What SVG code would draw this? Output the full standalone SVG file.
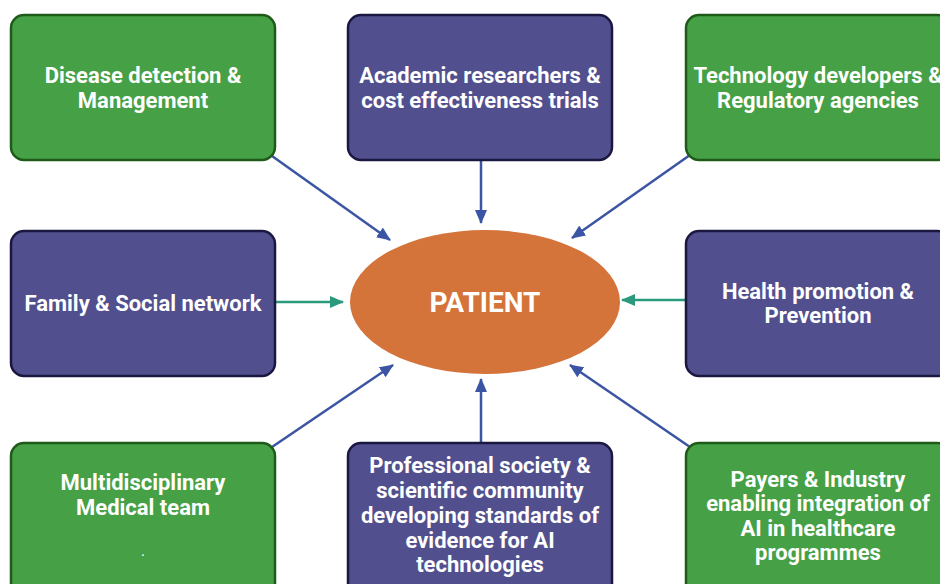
<svg xmlns="http://www.w3.org/2000/svg" width="940" height="584" viewBox="0 0 940 584">
<defs>
<marker id="ab" viewBox="0 0 14 12" refX="13" refY="6" markerWidth="5.6" markerHeight="4.8" orient="auto" markerUnits="strokeWidth"><path d="M0,0 L14,6 L0,12 z" fill="#3b55a4"/></marker>
<marker id="at" viewBox="0 0 14 12" refX="13" refY="6" markerWidth="5.6" markerHeight="4.8" orient="auto" markerUnits="strokeWidth"><path d="M0,0 L14,6 L0,12 z" fill="#2b9a7c"/></marker>
<style>
.g{fill:#46a046;stroke:#1e5a18;stroke-width:2.5}
.p{fill:#524f8e;stroke:#1a1840;stroke-width:2.5}
.t{font-family:Roboto,"Liberation Sans",sans-serif;font-weight:bold;font-size:22px;fill:#ffffff;text-anchor:middle}
.cb{stroke:#3b55a4;stroke-width:2.5;fill:none;marker-end:url(#ab)}
.ct{stroke:#2b9a7c;stroke-width:2.5;fill:none;marker-end:url(#at)}
</style>
</defs>
<rect width="940" height="584" fill="#ffffff"/>
<g id="connectors">
<line class="cb" x1="272" y1="156" x2="390" y2="240"/>
<line class="cb" x1="481" y1="160" x2="481" y2="223"/>
<line class="cb" x1="690" y1="155" x2="572" y2="238"/>
<line class="ct" x1="276" y1="302" x2="343" y2="302"/>
<line class="ct" x1="686" y1="300" x2="622" y2="300"/>
<line class="cb" x1="272" y1="447" x2="393" y2="365"/>
<line class="cb" x1="481" y1="443" x2="481" y2="379"/>
<line class="cb" x1="690" y1="447" x2="570" y2="365"/>
</g>
<g id="n1"><rect class="g" x="11" y="15" width="264" height="145" rx="13"/>
<text class="t" x="143" y="83">Disease detection &amp;</text><text class="t" x="143" y="108">Management</text></g>
<g id="n2"><rect class="p" x="348" y="15" width="264" height="145" rx="13"/>
<text class="t" x="480" y="83">Academic researchers &amp;</text><text class="t" x="480" y="108">cost effectiveness trials</text></g>
<g id="n3"><rect class="g" x="686" y="15" width="264" height="145" rx="13"/>
<text class="t" x="818" y="83">Technology developers &amp;</text><text class="t" x="818" y="108">Regulatory agencies</text></g>
<g id="n4"><rect class="p" x="11" y="231" width="264" height="145" rx="13"/>
<text class="t" x="143" y="311">Family &amp; Social network</text></g>
<g id="n5"><rect class="p" x="686" y="231" width="264" height="145" rx="13"/>
<text class="t" x="818" y="299">Health promotion &amp;</text><text class="t" x="818" y="323">Prevention</text></g>
<g id="n6"><rect class="g" x="11" y="443" width="264" height="160" rx="13"/>
<text class="t" x="143" y="490">Multidisciplinary</text><text class="t" x="143" y="515">Medical team</text><text class="t" x="143" y="556" style="font-size:10px">.</text></g>
<g id="n7"><rect class="p" x="348" y="443" width="264" height="160" rx="13"/>
<text class="t" x="480" y="473">Professional society &amp;</text><text class="t" x="480" y="498">scientific community</text><text class="t" x="480" y="523">developing standards of</text><text class="t" x="480" y="548">evidence for AI</text><text class="t" x="480" y="572">technologies</text></g>
<g id="n8"><rect class="g" x="686" y="443" width="264" height="160" rx="13"/>
<text class="t" x="818" y="487">Payers &amp; Industry</text><text class="t" x="818" y="511">enabling integration of</text><text class="t" x="818" y="536">AI in healthcare</text><text class="t" x="818" y="560">programmes</text></g>
<g id="patient"><ellipse cx="485" cy="302" rx="135" ry="72" fill="#d4733a"/>
<text class="t" x="485" y="312" style="font-size:28px">PATIENT</text></g>
</svg>
